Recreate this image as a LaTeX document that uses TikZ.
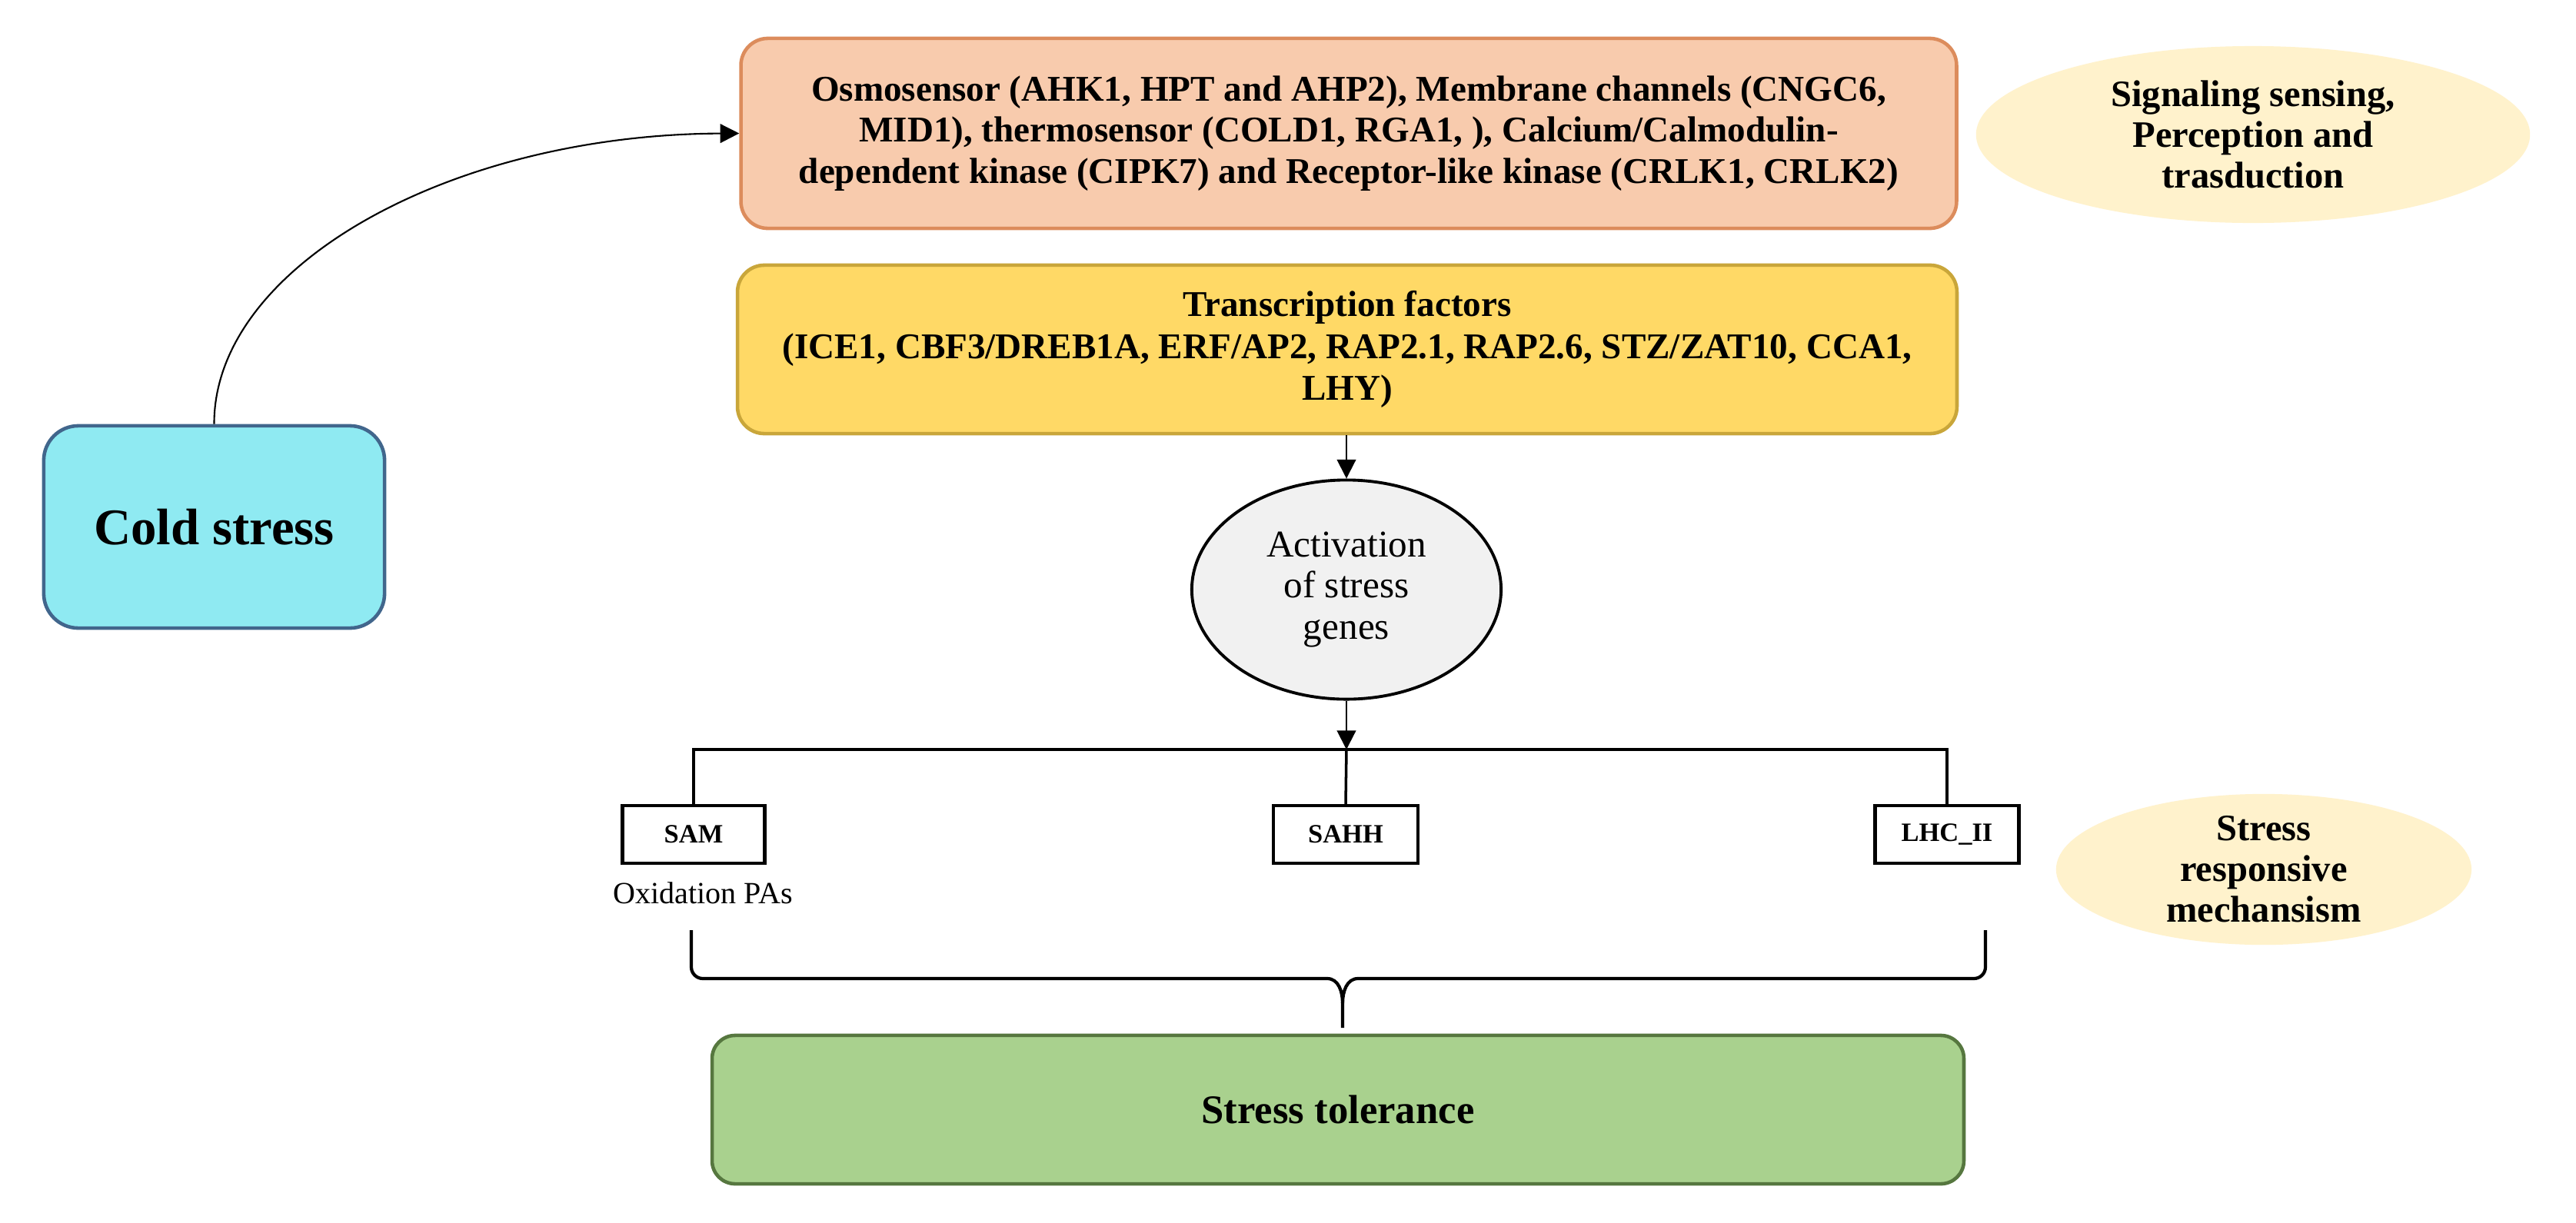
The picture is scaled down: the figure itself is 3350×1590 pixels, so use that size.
\documentclass[tikz,border=0pt]{standalone}
\usepackage{fontspec}
\setmainfont{Liberation Serif}
\usetikzlibrary{shapes.geometric,arrows.meta}
\definecolor{orfill}{HTML}{F8CBAD}
\definecolor{ordraw}{HTML}{DC8C5C}
\definecolor{yefill}{HTML}{FFD966}
\definecolor{yedraw}{HTML}{C9A63A}
\definecolor{grfill}{HTML}{A9D18E}
\definecolor{grdraw}{HTML}{56773F}
\definecolor{cyfill}{HTML}{8FEAF2}
\definecolor{cydraw}{HTML}{41668C}
\definecolor{crfill}{HTML}{FFF2CC}
\definecolor{acfill}{HTML}{F1F1F1}
\tikzset{
  colbox/.style={rectangle, rounded corners=0.35cm, line width=1.3pt, inner sep=0pt, align=center},
  cream/.style={ellipse, fill=crfill, draw=none, inner sep=0pt, align=center,
    font=\fontsize{13.8}{15.1}\selectfont\bfseries},
  genebox/.style={rectangle, draw=black, line width=1.2pt, fill=white, inner sep=0pt,
    minimum width=1.87cm, minimum height=0.75cm, font=\fontsize{9.8}{11}\selectfont\bfseries},
  thinarrow/.style={line width=0.6pt, -{Triangle[width=7pt,length=7pt]}},
  bus/.style={line width=1.3pt},
  busv/.style={line width=1pt},
}
\begin{document}
\begin{tikzpicture}[x=0.01cm, y=-0.01cm]
\useasboundingbox[fill=white] (0,0) rectangle (3350,1590);

% main boxes
\node[colbox, fill=orfill, draw=ordraw, minimum width=15.8cm, minimum height=2.47cm,
  font=\fontsize{13.4}{15.3}\selectfont\bfseries] (orange) at (1754,173.5)
  {Osmosensor (AHK1, HPT and AHP2), Membrane channels (CNGC6,\\
   MID1), thermosensor (COLD1, RGA1, ), Calcium/Calmodulin-\\
   dependent kinase (CIPK7) and Receptor-like kinase (CRLK1, CRLK2)};

\node[colbox, fill=yefill, draw=yedraw, minimum width=15.85cm, minimum height=2.19cm,
  font=\fontsize{13.4}{15.6}\selectfont\bfseries] (yellow) at (1752,454.5)
  {Transcription factors\\
   (ICE1, CBF3/DREB1A, ERF/AP2, RAP2.1, RAP2.6, STZ/ZAT10, CCA1,\\
   LHY)};

\node[colbox, rounded corners=0.45cm, fill=cyfill, draw=cydraw, minimum width=4.43cm, minimum height=2.63cm,
  font=\fontsize{19}{20}\selectfont\bfseries] (cold) at (278.5,685.5) {Cold stress};

\node[ellipse, fill=acfill, draw=black, line width=1.1pt, minimum width=4.02cm, minimum height=2.85cm,
  inner sep=0pt, align=center, font=\fontsize{14}{15.1}\selectfont] (act) at (1751,767)
  {Activation\\of stress\\genes};

\node[colbox, rounded corners=0.3cm, fill=grfill, draw=grdraw, minimum width=16.27cm, minimum height=1.93cm,
  font=\fontsize{15}{16}\selectfont\bfseries] (green) at (1740,1443.5) {Stress tolerance};

% side labels
\node[cream, minimum width=7.2cm, minimum height=2.3cm] (sig) at (2930,175)
  {Signaling sensing,\\Perception and\\trasduction};
\node[cream, minimum width=5.4cm, minimum height=1.93cm] (resp) at (2944,1131)
  {Stress\\responsive\\mechansism};

% gene boxes
\node[genebox, minimum width=1.85cm] (sam) at (902,1085.5) {SAM};
\node[genebox, minimum width=1.88cm] (sahh) at (1750,1085.5) {SAHH};
\node[genebox] (lhc) at (2532,1085.5) {LHC\_II};
\node[font=\fontsize{11.4}{12}\selectfont] (oxi) at (914,1162) {Oxidation PAs};

% bus
\coordinate (bar) at (1751,975);
\draw[bus] (sam.north) |- (lhc.north |- bar) -- (lhc.north);
\draw[busv] (bar) -- (sahh.north);

% arrows
\draw[thinarrow] (cold.north) .. controls (278,346) and (586,175) .. (orange.west);
\draw[thinarrow] (yellow.south -| act.north) -- (act.north);
\draw[thinarrow] (act.south) -- (bar);

% brace
\coordinate (bl) at (899,1210);
\coordinate (br) at (2582,1210);
\coordinate (btip) at (1746,1337);
\draw[line width=1.2pt, line join=round]
  (bl) -- (899,1258) to[out=-90,in=180] (914,1273) -- (1726,1273) to[out=0,in=90] (btip |- 0,1305) -- (btip);
\draw[line width=1.2pt, line join=round]
  (br) -- (2582,1258) to[out=-90,in=0] (2567,1273) -- (1766,1273) to[out=180,in=90] (btip |- 0,1305);
\end{tikzpicture}
\end{document}
